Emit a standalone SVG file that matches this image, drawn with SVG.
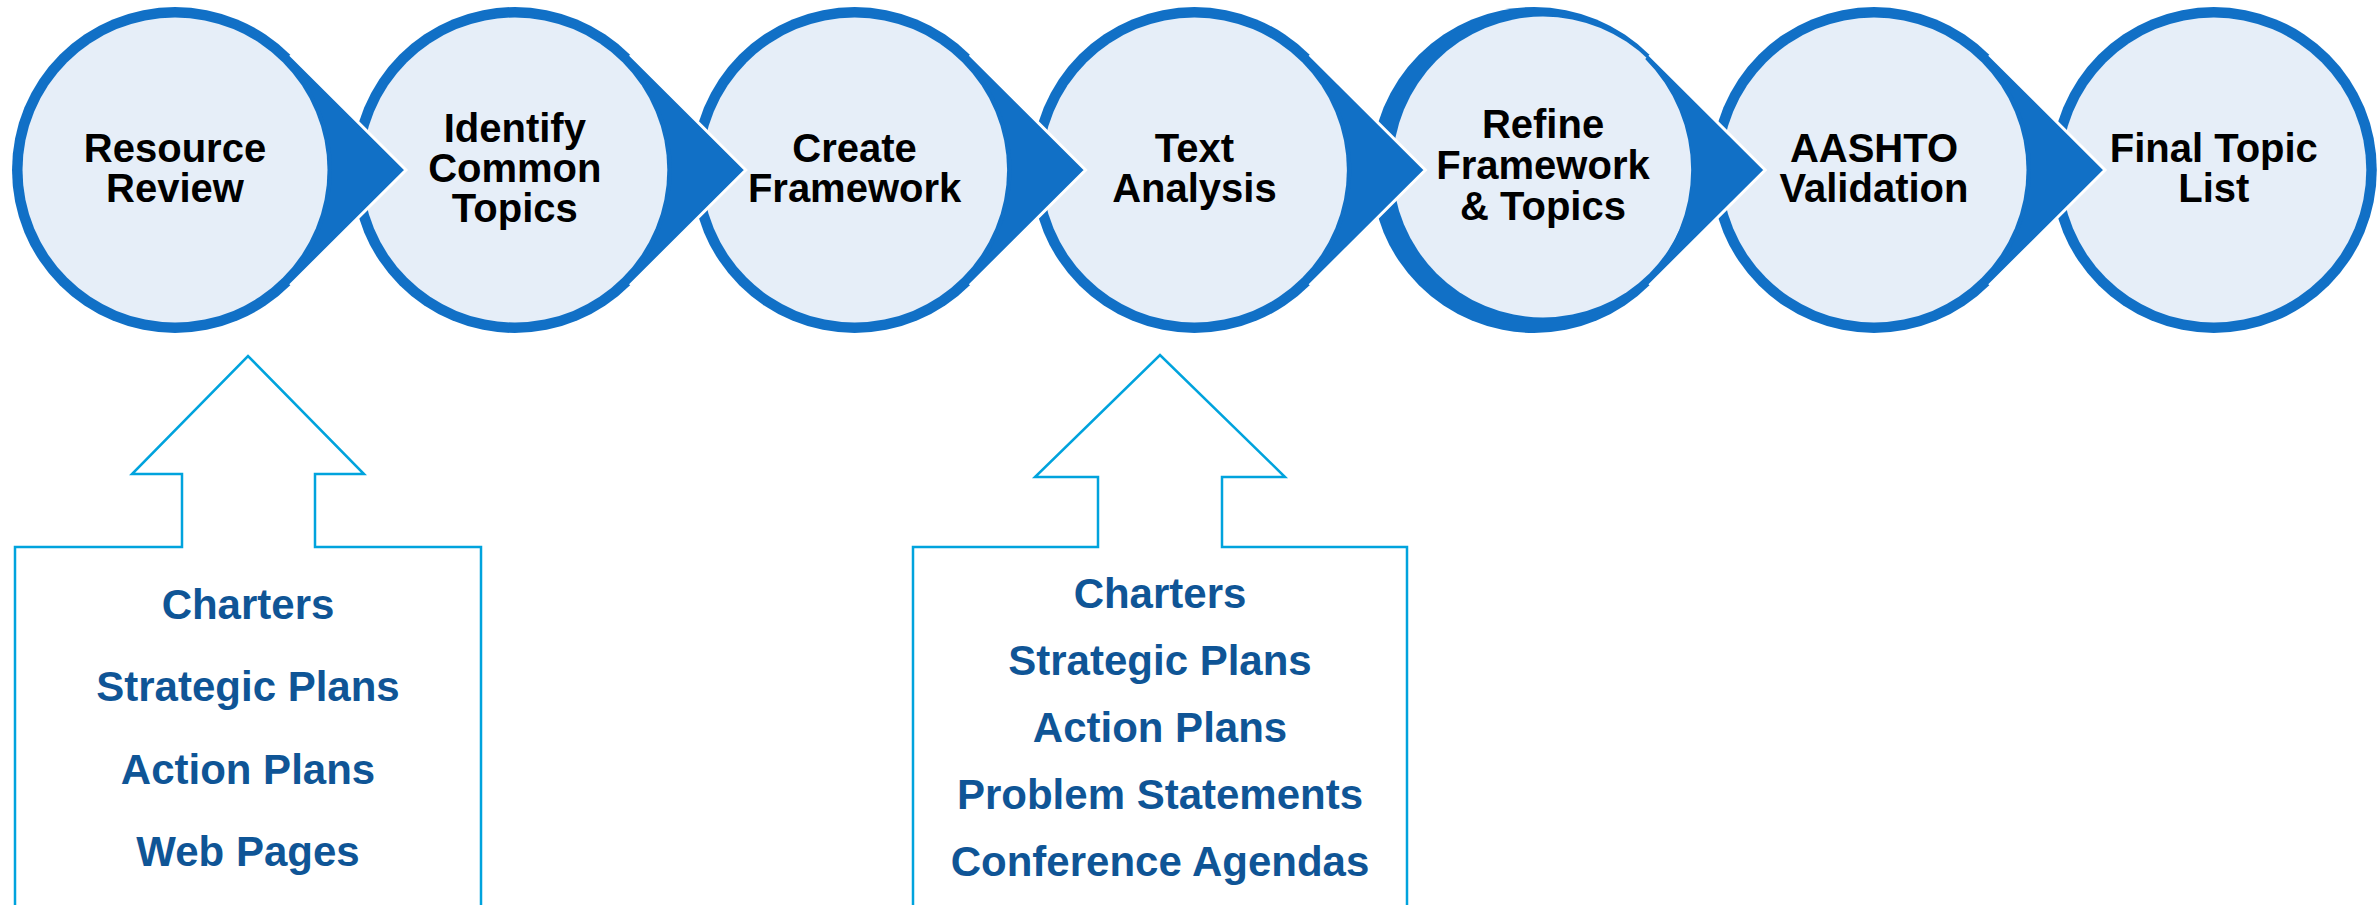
<svg xmlns="http://www.w3.org/2000/svg" width="2379" height="905" viewBox="0 0 2379 905">
<style>
.ring{fill:#1170C6}
.fill{fill:#E6EEF8}
.lbl{font-family:"Liberation Sans",Arial,sans-serif;font-weight:bold;font-size:40px;fill:#000;text-anchor:middle}
.arr{fill:#1170C6}
.edge{fill:none;stroke:#FFFFFF;stroke-width:3;stroke-linejoin:miter}
.call{fill:#FFFFFF;stroke:#00A3DD;stroke-width:2.5}
.src{font-family:"Liberation Sans",Arial,sans-serif;font-weight:bold;font-size:42px;fill:#0F5596;text-anchor:middle}
</style>
<rect width="2379" height="905" fill="#FFFFFF"/>
<g id="node1">
<circle class="ring" cx="175" cy="170" r="163"/>
<circle class="fill" cx="175" cy="170" r="152.5"/>
<text class="lbl" x="175" y="162">Resource</text>
<text class="lbl" x="175" y="202">Review</text>
</g>
<g id="node2">
<circle class="ring" cx="514.8" cy="170" r="163"/>
<circle class="fill" cx="514.8" cy="170" r="152.5"/>
<text class="lbl" x="514.8" y="142">Identify</text>
<text class="lbl" x="514.8" y="182">Common</text>
<text class="lbl" x="514.8" y="222">Topics</text>
</g>
<g id="node3">
<circle class="ring" cx="854.6" cy="170" r="163"/>
<circle class="fill" cx="854.6" cy="170" r="152.5"/>
<text class="lbl" x="854.6" y="162">Create</text>
<text class="lbl" x="854.6" y="202">Framework</text>
</g>
<g id="node4">
<circle class="ring" cx="1194.4" cy="170" r="163"/>
<circle class="fill" cx="1194.4" cy="170" r="152.5"/>
<text class="lbl" x="1194.4" y="162">Text</text>
<text class="lbl" x="1194.4" y="202">Analysis</text>
</g>
<g id="node5">
<circle class="ring" cx="1534.2" cy="170" r="163"/>
<circle class="fill" cx="1543" cy="167" r="150.5"/>
<text class="lbl" x="1543" y="138">Refine</text>
<text class="lbl" x="1543" y="179">Framework</text>
<text class="lbl" x="1543" y="220">&amp; Topics</text>
</g>
<g id="node6">
<circle class="ring" cx="1874" cy="170" r="163"/>
<circle class="fill" cx="1874" cy="170" r="152.5"/>
<text class="lbl" x="1874" y="162">AASHTO</text>
<text class="lbl" x="1874" y="202">Validation</text>
</g>
<g id="node7">
<circle class="ring" cx="2213.8" cy="170" r="163"/>
<circle class="fill" cx="2213.8" cy="170" r="152.5"/>
<text class="lbl" x="2213.8" y="162">Final Topic</text>
<text class="lbl" x="2213.8" y="202">List</text>
</g>
<g id="connectors">
<g transform="translate(175,0)">
<path class="arr" d="M115.3,54.7 L231,170 L115.3,285.3 L111,281 A157 157 0 0 0 111,59 Z"/>
<path class="edge" d="M115.3,54.7 L231,170 L115.3,285.3"/>
</g>
<g transform="translate(514.8,0)">
<path class="arr" d="M115.3,54.7 L231,170 L115.3,285.3 L111,281 A157 157 0 0 0 111,59 Z"/>
<path class="edge" d="M115.3,54.7 L231,170 L115.3,285.3"/>
</g>
<g transform="translate(854.6,0)">
<path class="arr" d="M115.3,54.7 L231,170 L115.3,285.3 L111,281 A157 157 0 0 0 111,59 Z"/>
<path class="edge" d="M115.3,54.7 L231,170 L115.3,285.3"/>
</g>
<g transform="translate(1194.4,0)">
<path class="arr" d="M115.3,54.7 L231,170 L115.3,285.3 L111,281 A157 157 0 0 0 111,59 Z"/>
<path class="edge" d="M115.3,54.7 L231,170 L115.3,285.3"/>
</g>
<g transform="translate(1534.2,0)">
<path class="arr" d="M115.3,54.7 L231,170 L115.3,285.3 L111,281 A157 157 0 0 0 111,59 Z"/>
<path class="edge" d="M115.3,54.7 L231,170 L115.3,285.3"/>
</g>
<g transform="translate(1874,0)">
<path class="arr" d="M115.3,54.7 L231,170 L115.3,285.3 L111,281 A157 157 0 0 0 111,59 Z"/>
<path class="edge" d="M115.3,54.7 L231,170 L115.3,285.3"/>
</g>
</g>
<g id="sources1">
<path class="call" d="M15,912 L15,547 L182,547 L182,474 L132,474 L248,356 L364,474 L315,474 L315,547 L481,547 L481,912"/>
<text class="src" x="248" y="619">Charters</text>
<text class="src" x="248" y="701">Strategic Plans</text>
<text class="src" x="248" y="784">Action Plans</text>
<text class="src" x="248" y="866">Web Pages</text>
</g>
<g id="sources2">
<path class="call" d="M913,912 L913,547 L1098,547 L1098,477 L1035,477 L1160,355 L1285,477 L1222,477 L1222,547 L1407,547 L1407,912"/>
<text class="src" x="1160" y="608">Charters</text>
<text class="src" x="1160" y="675">Strategic Plans</text>
<text class="src" x="1160" y="742">Action Plans</text>
<text class="src" x="1160" y="809">Problem Statements</text>
<text class="src" x="1160" y="876">Conference Agendas</text>
</g>
</svg>
